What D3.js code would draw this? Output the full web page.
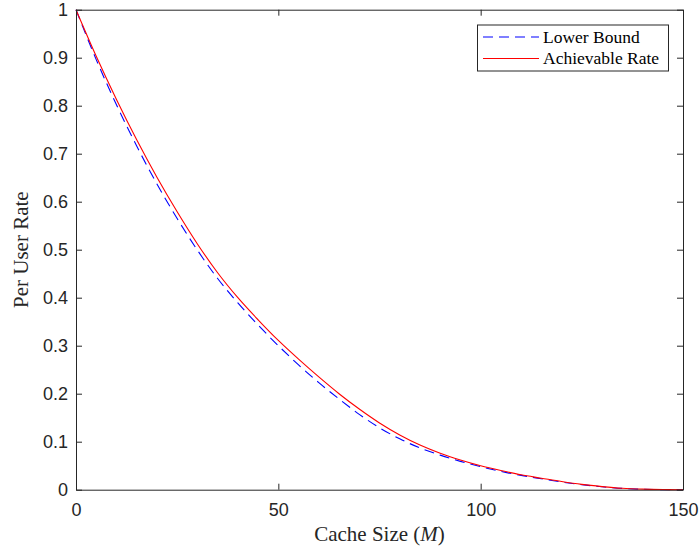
<!DOCTYPE html>
<html>
<head>
<meta charset="utf-8">
<script src="https://cdn.jsdelivr.net/npm/d3@7"></script>
<style>
  body { margin: 0; background: #fff; }
  svg { display: block; }
</style>
</head>
<body>
<svg id="chart" width="700" height="550"></svg>
<script>
// ---- data ----
const cacheSize = [0,5,10,15,20,25,30,35,40,45,50,55,60,65,70,75,80,85,90,95,100,105,110,115,120,125,130,135,140,145,150];
const achievableRate = [1.000,0.903,0.813,0.729,0.651,0.579,0.512,0.452,0.400,0.354,0.311,0.272,0.235,0.200,0.168,0.139,0.114,0.093,0.076,0.062,0.050,0.040,0.031,0.024,0.017,0.011,0.0065,0.003,0.0012,0.0003,0];
const lowerBound = [1.000,0.896,0.802,0.716,0.637,0.565,0.499,0.440,0.389,0.343,0.300,0.260,0.223,0.189,0.157,0.129,0.106,0.087,0.072,0.059,0.048,0.038,0.0298,0.0228,0.016,0.0105,0.006,0.0027,0.001,0.0002,0];
const xTicks = [0,50,100,150];
const yTicks = [0,0.1,0.2,0.3,0.4,0.5,0.6,0.7,0.8,0.9,1];
const seriesNames = ["Lower Bound","Achievable Rate"];
const xTitle = "Cache Size (";
const xTitleVar = "M";
const yTitle = "Per User Rate";

// ---- layout ----
const svg = d3.select("#chart");
const L = 76, R = 683, T = 9.7, B = 489.7;
const x = d3.scaleLinear().domain([0,150]).range([L,R]);
const y = d3.scaleLinear().domain([0,1]).range([B,T]);
const axisColor = "#262626";
const tickFont = "Liberation Sans, Arial, sans-serif";
const serif = "Liberation Serif, Times New Roman, serif";

// lines
const lineGen = (vals) => d3.line()
  .x((d,i) => x(cacheSize[i]))
  .y(d => y(d))
  .curve(d3.curveMonotoneX)(vals);

const plot = svg.append("g");
plot.append("path").attr("d", lineGen(lowerBound))
  .attr("fill","none").attr("stroke","#0000ff").attr("stroke-width",1.1)
  .attr("stroke-dasharray","10,6");
plot.append("path").attr("d", lineGen(achievableRate))
  .attr("fill","none").attr("stroke","#ff0000").attr("stroke-width",1.1);

// axes (ticks inside)
const tk = 6;
const axB = d3.axisBottom(x).tickValues(xTicks).tickSizeInner(-tk).tickSizeOuter(0).tickPadding(14).tickFormat(d3.format("d"));
const axT = d3.axisTop(x).tickValues(xTicks).tickSizeInner(-tk).tickSizeOuter(0).tickFormat("");
const axL = d3.axisLeft(y).tickValues(yTicks).tickSizeInner(-tk).tickSizeOuter(0).tickPadding(8).tickFormat(d => d === 0 || d === 1 ? d3.format("d")(d) : d3.format(".1f")(d));
const axR = d3.axisRight(y).tickValues(yTicks).tickSizeInner(-tk).tickSizeOuter(0).tickFormat("");

function style(g){
  g.selectAll("path.domain").attr("stroke",axisColor).attr("stroke-width",1);
  g.selectAll(".tick line").attr("stroke",axisColor).attr("stroke-width",1);
  g.selectAll(".tick text").attr("fill",axisColor).style("font-family",tickFont).style("font-size","18px");
}
svg.append("g").attr("transform",`translate(0,${B})`).call(axB).call(style);
svg.append("g").attr("transform",`translate(0,${T})`).call(axT).call(style);
svg.append("g").attr("transform",`translate(${L},0)`).call(axL).call(style);
svg.append("g").attr("transform",`translate(${R},0)`).call(axR).call(style);

// axis titles
const xt = svg.append("text").attr("x",(L+R)/2).attr("y",541)
  .attr("text-anchor","middle").attr("fill",axisColor)
  .style("font-family",serif).style("font-size","21px");
xt.append("tspan").text(xTitle);
xt.append("tspan").style("font-style","italic").text(xTitleVar);
xt.append("tspan").text(")");

svg.append("text").attr("transform",`translate(28,${(T+B)/2}) rotate(-90)`)
  .attr("text-anchor","middle").attr("fill",axisColor)
  .style("font-family",serif).style("font-size","21px").text(yTitle);

// legend
const lg = svg.append("g");
lg.append("rect").attr("x",477.5).attr("y",25).attr("width",191).attr("height",46)
  .attr("fill","#fff").attr("stroke",axisColor).attr("stroke-width",1);
const legColors = ["#0000ff","#ff0000"];
const legDash = ["10,6",null];
seriesNames.forEach((nm,i) => {
  const yy = 37 + i*21.5;
  lg.append("line").attr("x1",483).attr("x2",539).attr("y1",yy).attr("y2",yy)
    .attr("stroke",legColors[i]).attr("stroke-width",1.1)
    .attr("stroke-dasharray",legDash[i]);
  lg.append("text").attr("x",543).attr("y",yy+5.5).attr("fill","#000")
    .style("font-family",serif).style("font-size","17.5px").text(nm);
});
</script>
</body>
</html>
